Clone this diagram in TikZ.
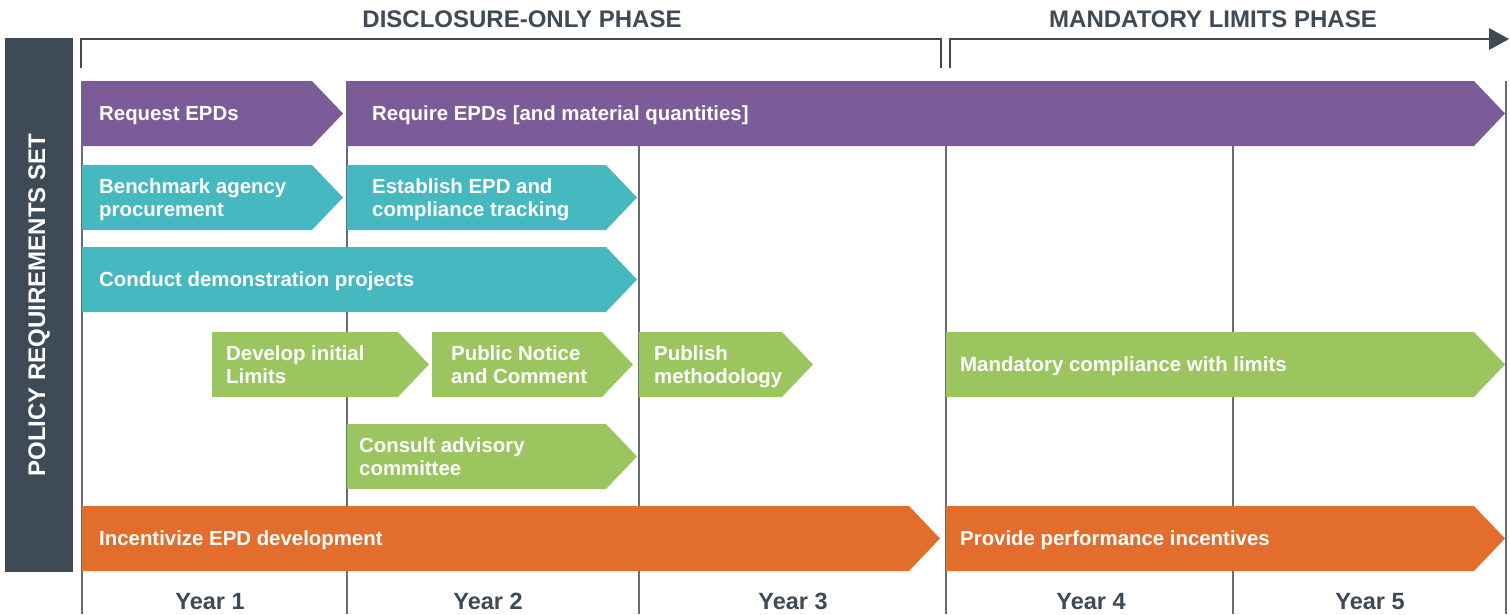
\documentclass[tikz,border=0pt]{standalone}
\usepackage{fontspec}
\setmainfont{Liberation Sans}
\definecolor{slate}{HTML}{3E4B56}
\definecolor{gridc}{HTML}{646E78}
\definecolor{cpurple}{HTML}{7B5C98}
\definecolor{cteal}{HTML}{46B8BF}
\definecolor{cgreen}{HTML}{9BC55F}
\definecolor{corange}{HTML}{E36D2D}
\tikzset{
  boxtxt/.style={anchor=base west, inner sep=0pt, text=white,
    font=\fontsize{20.4}{23}\selectfont\bfseries},
  yearlbl/.style={anchor=base, inner sep=0pt, text=slate,
    font=\fontsize{23.5}{26}\selectfont\bfseries},
  phaselbl/.style={anchor=base, inner sep=0pt, text=slate,
    font=\fontsize{24}{26}\selectfont\bfseries},
  gridline/.style={draw=gridc, line width=1.5pt},
  bracketline/.style={draw=slate, line width=2.5pt},
}
% #1 left x, #2 tip x, #3 centre y, #4 colour, #5 name, #6 text x, #7 baseline offset, #8 text
\newcommand\pchev[8]{%
  \fill[#4] (#1,#3-32.5) -- (#2-31,#3-32.5) -- (#2,#3) -- (#2-31,#3+32.5) -- (#1,#3+32.5) -- cycle;
  \node[boxtxt] (#5) at (#6,#3+#7) {\begin{tabular}[t]{@{}l@{}}#8\end{tabular}};%
}
\begin{document}
\begin{tikzpicture}[x=1pt,y=-1pt]
\useasboundingbox (0,0) rectangle (1510,614);

% left bar
\fill[slate] (5,38) rectangle (73,572);
\node[rotate=90, inner sep=0pt, text=white, font=\fontsize{24}{26}\selectfont\bfseries] (side) at (39,305) {POLICY REQUIREMENTS SET};

% headers
\node[phaselbl] (ph1) at (522,27) {DISCLOSURE-ONLY PHASE};
\node[phaselbl] (ph2) at (1213,27) {MANDATORY LIMITS PHASE};
\draw[bracketline] (81,68) -- (81,39) -- (941,39) -- (941,68);
\draw[bracketline] (950,68) -- (950,39) -- (1492,39);
\fill[slate] (1489,28) -- (1509,39) -- (1489,50) -- cycle;

% grid lines
\foreach \gx in {82,347,639,946,1233,1506}
  \draw[gridline] (\gx,81) -- (\gx,614);

% chevrons
\pchev{82}{343}{113.5}{cpurple}{req}{99}{7}{Request EPDs}
\pchev{347}{1505}{113.5}{cpurple}{reqq}{372}{7}{Require EPDs [and material quantities]}
\pchev{82}{343}{197.5}{cteal}{bench}{99}{-4.5}{Benchmark agency\\procurement}
\pchev{347}{637}{197.5}{cteal}{estab}{372}{-4.5}{Establish EPD and\\compliance tracking}
\pchev{82}{637}{279.5}{cteal}{demo}{99}{7}{Conduct demonstration projects}
\pchev{212}{429}{364.5}{cgreen}{devl}{226}{-4.5}{Develop initial\\Limits}
\pchev{432}{633}{364.5}{cgreen}{pubn}{451}{-4.5}{Public Notice\\and Comment}
\pchev{639}{813}{364.5}{cgreen}{pubm}{654}{-4.5}{Publish\\methodology}
\pchev{946}{1505}{364.5}{cgreen}{mand}{960}{7}{Mandatory compliance with limits}
\pchev{347}{637}{456.5}{cgreen}{cons}{359}{-4.5}{Consult advisory\\committee}
\pchev{82}{940}{538.5}{corange}{incent}{99}{7}{Incentivize EPD development}
\pchev{946}{1505}{538.5}{corange}{perf}{960}{7}{Provide performance incentives}

% years
\node[yearlbl] (y1) at (210,609) {Year 1};
\node[yearlbl] (y2) at (488,609) {Year 2};
\node[yearlbl] (y3) at (793,609) {Year 3};
\node[yearlbl] (y4) at (1091,609) {Year 4};
\node[yearlbl] (y5) at (1370,609) {Year 5};
\end{tikzpicture}
\end{document}
